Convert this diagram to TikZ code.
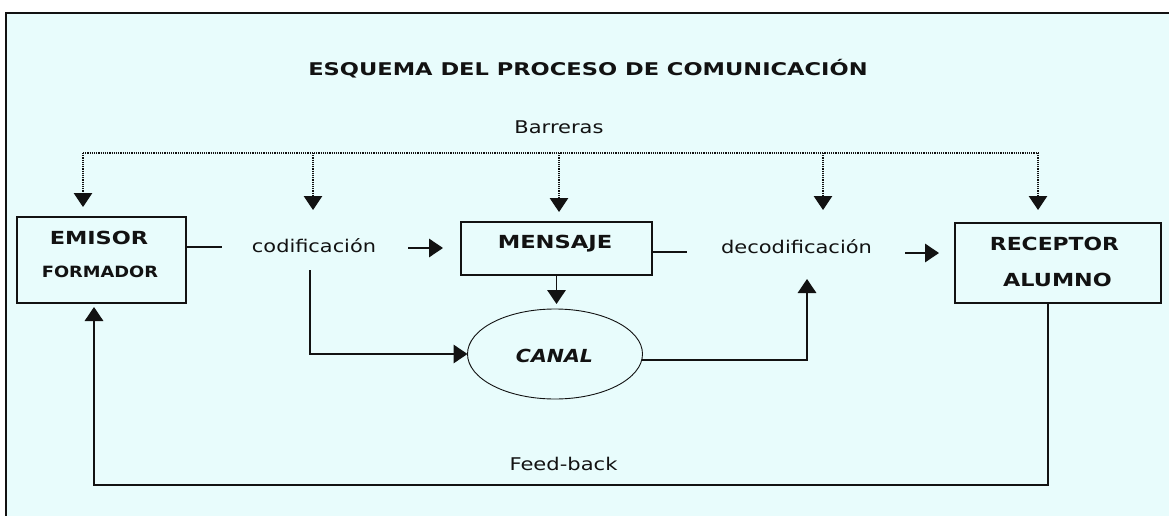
\documentclass[tikz,border=0pt]{standalone}
\usepackage{fontspec}
\usepackage{graphicx}
\setmainfont{DejaVu Sans}
\usetikzlibrary{arrows.meta,shapes.geometric}
\definecolor{bgc}{RGB}{232,252,252}
\definecolor{ink}{RGB}{18,18,18}
\newcommand{\stretchx}[2]{\scalebox{#1}[1]{#2}}
\begin{document}
\begin{tikzpicture}[x=1pt,y=-1pt,
  every node/.style={inner sep=0pt, outer sep=0pt},
  box/.style={draw=ink, line width=1.6pt, rectangle},
  conn/.style={draw=ink, line width=1.6pt},
  tip/.style={-{Triangle[width=18.5pt,length=14pt]}},
  dots/.style={draw=ink, line width=1.1pt, dash pattern=on 1.1pt off 1.1pt},
  txt/.style={anchor=base, text=ink, font=\fontsize{17.5}{20}\selectfont},
  btxt/.style={anchor=base, text=ink, font=\fontsize{18}{20}\selectfont\bfseries},
]
\useasboundingbox (0,0) rectangle (1169,516);
\fill[white] (0,0) rectangle (1169,516);
\fill[bgc] (6,13) rectangle (1169,516);
\draw[ink, line width=2pt] (6,516) -- (6,13) -- (1169,13);

% boxes
\node[box, minimum width=169pt, minimum height=86pt] (emisor) at (101.5,260) {};
\node[box, minimum width=191pt, minimum height=53pt] (mensaje) at (556.5,248.5) {};
\node[box, minimum width=206pt, minimum height=80pt] (receptor) at (1058,263) {};
\node[draw=ink, line width=0.9pt, ellipse, minimum width=175pt, minimum height=90pt] (canal) at (555,354) {};

% texts
\node[btxt, font=\fontsize{17.5}{20}\selectfont\bfseries] (title) at (588,76) {\stretchx{1.288}{ESQUEMA DEL PROCESO DE COMUNICACIÓN}};
\node[txt] (barreras) at (559,133) {\stretchx{1.2}{Barreras}};
\node[btxt] (emisorT) at (99,244) {\stretchx{1.246}{EMISOR}};
\node[btxt, font=\fontsize{15.5}{18}\selectfont\bfseries] (formador) at (100,277) {\stretchx{1.15}{FORMADOR}};
\node[txt] (codif) at (314,252) {\stretchx{1.193}{codificación}};
\node[btxt] (mensajeT) at (555,248) {\stretchx{1.256}{MENSAJE}};
\node[txt] (decodif) at (796.5,253) {\stretchx{1.2}{decodificación}};
\node[btxt] (receptorT) at (1054.5,250) {\stretchx{1.214}{RECEPTOR}};
\node[btxt] (alumno) at (1057.5,286) {\stretchx{1.239}{ALUMNO}};
\node[btxt, font=\fontsize{18}{20}\selectfont\bfseries\itshape] (canalT) at (554.5,362) {\stretchx{1.14}{CANAL}};
\node[txt] (feedback) at (563.5,470) {\stretchx{1.203}{Feed-back}};

% barriers
\coordinate (bL) at (83,153);
\coordinate (bR) at (1038,153);
\coordinate (tE) at (83,207);
\coordinate (tC) at (313,210);
\coordinate (tM) at (559,212);
\coordinate (tD) at (823,210);
\coordinate (tR) at (1038,210);
\draw[dots] (bL) -- (bR);
\draw[dots,tip] (bL) -- (tE);
\draw[dots,tip] (bL -| tC) -- (tC);
\draw[dots,tip] (bL -| tM) -- (tM);
\draw[dots,tip] (bL -| tD) -- (tD);
\draw[dots,tip] (bR) -- (tR);

% main flow
\coordinate (e1) at (222,247);
\draw[conn] (emisor.east |- e1) -- (e1);
\coordinate (a1) at (408,248);
\coordinate (a2) at (443,248);
\draw[conn,tip] (a1) -- (a2);
\coordinate (c1) at (310,270);
\draw[conn,tip] (c1) |- (canal.west);
\coordinate (m1) at (556.5,304);
\draw[conn,tip] (mensaje.south) -- (m1);
\coordinate (m2) at (687,252);
\draw[conn] (mensaje.east |- m2) -- (m2);
\coordinate (d1) at (905,253);
\coordinate (d2) at (939,253);
\draw[conn,tip] (d1) -- (d2);
\coordinate (dU) at (807,279);
\draw[conn,tip] (canal.-4) -| (dU);
\coordinate (fb) at (1048,485);
\coordinate (tF) at (94,307);
\draw[conn,tip] (receptor.south -| fb) -- (fb) -| (tF);
\end{tikzpicture}
\end{document}
